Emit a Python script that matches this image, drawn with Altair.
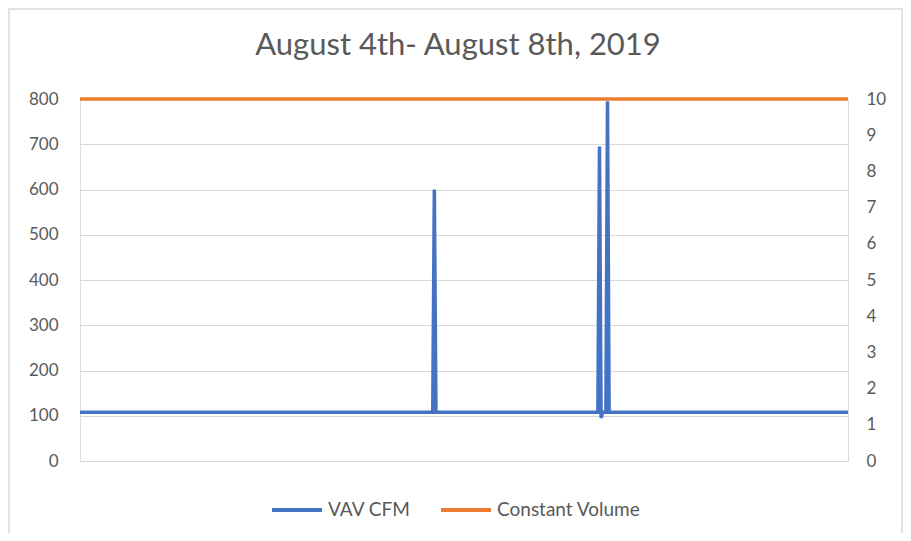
import altair as alt
import pandas as pd

title_text = "August 4th- August 8th, 2019"
series_names = ["VAV CFM", "Constant Volume"]
series_colors = ["#4472C4", "#ED7D31"]

# 15-minute samples, Aug 4 - Aug 8 (480 samples)
vav_index = [0, 220, 221, 222, 323, 324, 325, 326, 328, 329, 330, 479]
vav_cfm = [108, 108, 600, 108, 108, 695, 95, 108, 108, 795, 108, 108]
cv_index = [0, 479]
cv_values = [800, 800]

left_ticks = [0, 100, 200, 300, 400, 500, 600, 700, 800]
right_ticks = [0, 1, 2, 3, 4, 5, 6, 7, 8, 9, 10]

FONT = "Lato"
GREY = "#595959"

df = pd.concat([
    pd.DataFrame({"idx": vav_index, "value": vav_cfm, "series": series_names[0]}),
    pd.DataFrame({"idx": cv_index, "value": cv_values, "series": series_names[1]}),
])

lines = alt.Chart(df).mark_line(strokeWidth=3.5).encode(
    x=alt.X("idx:Q", scale=alt.Scale(domain=[0, 479], nice=False, zero=False), axis=None),
    y=alt.Y("value:Q", scale=alt.Scale(domain=[0, 800], nice=False),
            axis=alt.Axis(values=left_ticks, orient="left", title=None, domain=False, ticks=False,
                          labelPadding=22, labelColor=GREY, labelFontSize=17, labelFont=FONT,
                          grid=True, gridColor="#d9d9d9", gridWidth=1)),
    color=alt.Color("series:N", scale=alt.Scale(domain=series_names, range=series_colors),
                    legend=alt.Legend(title=None, orient="none", legendX=190, legendY=384,
                                      direction="horizontal", symbolType="stroke",
                                      symbolStrokeWidth=4, symbolSize=2500, labelOffset=4,
                                      columnPadding=22, labelFontSize=19, labelColor=GREY,
                                      labelFont=FONT)),
    detail="series:N",
)

right_axis = alt.Chart(pd.DataFrame({"r": right_ticks})).mark_point(opacity=0).encode(
    y=alt.Y("r:Q", scale=alt.Scale(domain=[0, 10], nice=False),
            axis=alt.Axis(values=right_ticks, orient="right", title=None, domain=False, ticks=False,
                          labelPadding=18, labelColor=GREY, labelFontSize=17, labelFont=FONT,
                          grid=False)),
)

frame = alt.Chart(pd.DataFrame({"a": [0]})).mark_rect(
    fillOpacity=0, stroke="#d9d9d9", strokeWidth=1.5
).encode(x=alt.value(-71), x2=alt.value(822), y=alt.value(-90), y2=alt.value(470))

title = alt.Chart(pd.DataFrame({"a": [0]})).mark_text(
    text=title_text, fontSize=31, color=GREY, font=FONT, baseline="alphabetic", align="center"
).encode(x=alt.value(378), y=alt.value(-44))

chart = alt.layer(frame, lines, right_axis, title).resolve_scale(y="independent").properties(
    width=768, height=362,
    autosize=alt.AutoSizeParams(type="none"),
    padding={"left": 72, "top": 91, "right": 55, "bottom": 72},
).configure_view(stroke=None).configure(font=FONT)

chart.save("out.html", embed_options={"renderer": "svg", "actions": False})
